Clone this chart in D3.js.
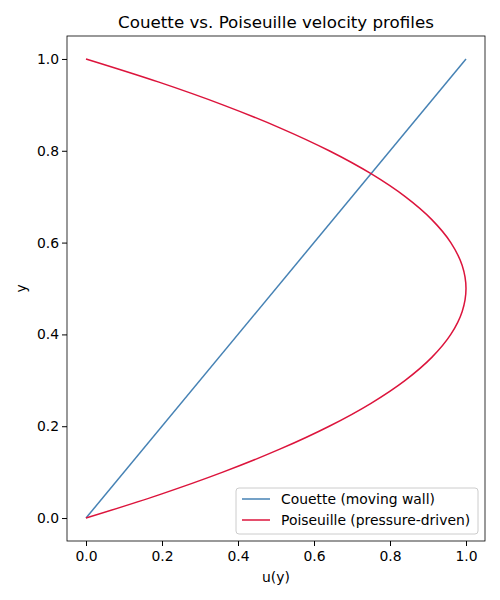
<!DOCTYPE html>
<html><head><meta charset="utf-8">
<script src="https://cdn.jsdelivr.net/npm/d3@7"></script>
<style>body{margin:0;background:#fff}text{font-family:"DejaVu Sans",sans-serif}</style>
</head><body><svg id="c" width="500" height="600"></svg>
<script>
const xTicks=[0.0,0.2,0.4,0.6,0.8,1.0];
const yTicks=[0.0,0.2,0.4,0.6,0.8,1.0];
const couetteY=[0,1];
const couetteU=[0,1];
const poisY=[0,0.05,0.1,0.15,0.2,0.25,0.3,0.35,0.4,0.45,0.5,0.55,0.6,0.65,0.7,0.75,0.8,0.85,0.9,0.95,1];
const poisU=[0,0.19,0.36,0.51,0.64,0.75,0.84,0.91,0.96,0.99,1,0.99,0.96,0.91,0.84,0.75,0.64,0.51,0.36,0.19,0];
const svg=d3.select("#c");
const L=67,R=485,T=36,B=541;
const x=d3.scaleLinear().domain([-0.05,1.05]).range([L,R]);
const y=d3.scaleLinear().domain([-0.05,1.05]).range([B,T]);
svg.append("g").attr("transform",`translate(0,${B})`).call(d3.axisBottom(x).tickValues(xTicks).tickFormat(d3.format(".1f")).tickSize(5).tickSizeOuter(0)).call(g=>g.select(".domain").remove()).selectAll("text").attr("font-size",13.9).attr("dy","0.85em");
svg.append("g").attr("transform",`translate(${L},0)`).call(d3.axisLeft(y).tickValues(yTicks).tickFormat(d3.format(".1f")).tickSize(5).tickSizeOuter(0)).call(g=>g.select(".domain").remove()).selectAll("text").attr("font-size",13.9);
svg.selectAll(".tick line").attr("stroke","#000");
svg.selectAll(".tick text").attr("fill","#000");
const line=d3.line().x(d=>x(d[0])).y(d=>y(d[1]));
svg.append("path").datum(couetteY.map((v,i)=>[couetteU[i],v])).attr("d",line).attr("fill","none").attr("stroke","#4682b4").attr("stroke-width",1.5);
svg.append("path").datum(poisY.map((v,i)=>[poisU[i],v])).attr("d",line.curve(d3.curveCatmullRom)).attr("fill","none").attr("stroke","#dc143c").attr("stroke-width",1.5);
svg.append("rect").attr("x",L).attr("y",T).attr("width",R-L).attr("height",B-T).attr("fill","none").attr("stroke","#000").attr("stroke-width",0.8);
svg.append("text").attr("x",(L+R)/2).attr("y",28).attr("text-anchor","middle").attr("font-size",16.7).text("Couette vs. Poiseuille velocity profiles");
svg.append("text").attr("x",(L+R)/2).attr("y",582).attr("text-anchor","middle").attr("font-size",13.9).text("u(y)");
svg.append("text").attr("transform",`translate(26,${(T+B)/2}) rotate(-90)`).attr("text-anchor","middle").attr("font-size",13.9).text("y");
const lg=svg.append("g");
lg.append("rect").attr("x",236).attr("y",488).attr("width",242).attr("height",46).attr("rx",3).attr("fill","#fff").attr("stroke","#ccc");
[["Couette (moving wall)","#4682b4",504],["Poiseuille (pressure-driven)","#dc143c",525]].forEach(([t,c,yy])=>{
lg.append("line").attr("x1",242).attr("x2",270).attr("y1",yy-5).attr("y2",yy-5).attr("stroke",c).attr("stroke-width",1.5);
lg.append("text").attr("x",281).attr("y",yy).attr("font-size",13.9).text(t);});
</script></body></html>
